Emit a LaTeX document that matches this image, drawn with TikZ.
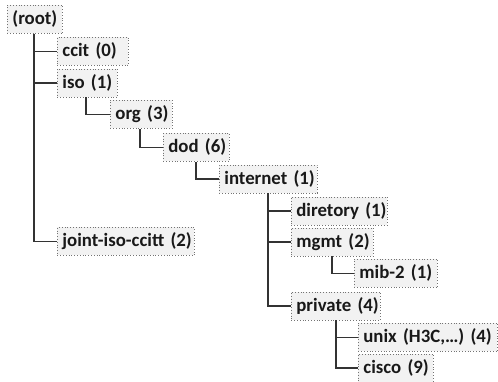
\documentclass[tikz,border=0pt]{standalone}
\usepackage{fontspec}
\setmainfont{Carlito}
\newcommand{\oidtext}[1]{\mbox{#1}}
\begin{document}
\begin{tikzpicture}[x=1pt,y=-1pt,
  oid/.style={draw=black!55, dotted, line width=0.8pt, fill=black!5,
    anchor=north west, minimum height=28pt, inner xsep=5pt, inner ysep=0pt,
    align=left, font=\fontsize{18.8}{21}\selectfont\bfseries, text=black!90},
  branch/.style={draw=black!80, line width=1.3pt}]
\useasboundingbox (0,0) rectangle (498,381);

% object identifier boxes (left, top, width minus padding)
\node[oid, text width=45pt]  (root)     at (7,5)     {\oidtext{(root)}};
\node[oid, text width=61pt]  (ccit)     at (57,37)   {\oidtext{ccit (0)}};
\node[oid, text width=50pt]  (iso)      at (57,68.5) {\oidtext{iso (1)}};
\node[oid, text width=52pt]  (org)      at (110,100) {\oidtext{org (3)}};
\node[oid, text width=56pt]  (dod)      at (163,133) {\oidtext{dod (6)}};
\node[oid, text width=88pt]  (internet) at (219,164.5) {\oidtext{internet (1)}};
\node[oid, text width=86pt]  (diretory) at (291,196.5) {\oidtext{diretory (1)}};
\node[oid, text width=72pt]  (mgmt)     at (291,227.5) {\oidtext{mgmt (2)}};
\node[oid, text width=73pt]  (mib)      at (354,259) {\oidtext{mib-2 (1)}};
\node[oid, text width=79pt]  (private)  at (291,291.5) {\oidtext{private (4)}};
\node[oid, text width=129pt] (unix)     at (358,323) {\oidtext{unix (H3C,\ldots) (4)}};
\node[oid, text width=65pt]  (cisco)    at (358,353.5) {\oidtext{cisco (9)}};
\node[oid, text width=127pt] (joint)    at (57,227) {\oidtext{joint-iso-ccitt (2)}};

% tree branches
\draw[branch] ([xshift=27pt]root.south west) |- (joint.west);
\draw[branch] ([xshift=27pt]root.south west) |- (ccit.west);
\draw[branch] ([xshift=27pt]root.south west) |- (iso.west);
\draw[branch] ([xshift=29pt]iso.south west) |- (org.west);
\draw[branch] ([xshift=30pt]org.south west) |- (dod.west);
\draw[branch] ([xshift=33pt]dod.south west) |- (internet.west);
\draw[branch] ([xshift=49pt]internet.south west) |- (private.west);
\draw[branch] ([xshift=49pt]internet.south west) |- (diretory.west);
\draw[branch] ([xshift=49pt]internet.south west) |- (mgmt.west);
\draw[branch] ([xshift=41pt]mgmt.south west) |- (mib.west);
\draw[branch] ([xshift=45pt]private.south west) |- (cisco.west);
\draw[branch] ([xshift=45pt]private.south west) |- (unix.west);
\end{tikzpicture}
\end{document}
